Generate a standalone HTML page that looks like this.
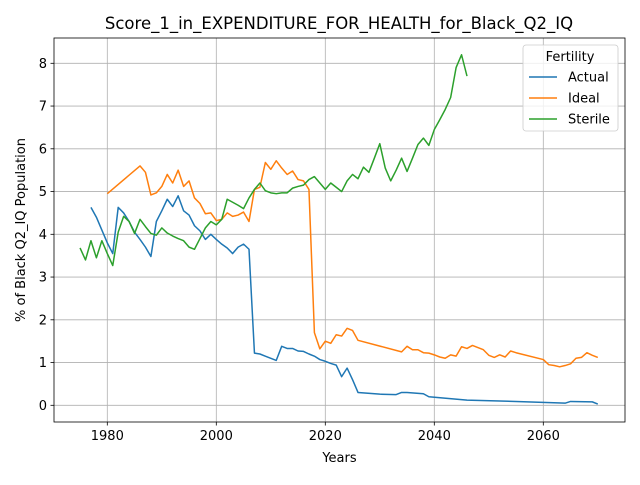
<!DOCTYPE html>
<html><head><meta charset="utf-8"><style>body{margin:0;background:#fff}svg{font-family:"DejaVu Sans","Liberation Sans",sans-serif}</style></head>
<body>
<svg id="chart" width="640" height="480" xmlns="http://www.w3.org/2000/svg"></svg>
<script>
const actualYears=[1977,1978,1979,1980,1981,1982,1983,1984,1985,1986,1987,1988,1989,1990,1991,1992,1993,1994,1995,1996,1997,1998,1999,2000,2001,2002,2003,2004,2005,2006,2007,2008,2009,2010,2011,2012,2013,2014,2015,2016,2017,2018,2019,2020,2021,2022,2023,2024,2025,2026,2030,2033,2034,2035,2038,2039,2046,2055,2064,2065,2069,2070];
const actualValues=[4.63,4.4,4.1,3.8,3.55,4.63,4.5,4.3,4.05,3.88,3.7,3.48,4.3,4.55,4.82,4.65,4.9,4.55,4.45,4.2,4.08,3.88,4.0,3.88,3.77,3.68,3.55,3.7,3.77,3.65,1.22,1.2,1.15,1.1,1.05,1.38,1.33,1.33,1.27,1.26,1.2,1.15,1.07,1.03,0.98,0.94,0.67,0.87,0.6,0.3,0.26,0.25,0.3,0.3,0.27,0.2,0.12,0.09,0.05,0.09,0.08,0.03];
const idealYears=[1980,1986,1987,1988,1989,1990,1991,1992,1993,1994,1995,1996,1997,1998,1999,2000,2001,2002,2003,2004,2005,2006,2007,2008,2009,2010,2011,2012,2013,2014,2015,2016,2017,2018,2019,2020,2021,2022,2023,2024,2025,2026,2034,2035,2036,2037,2038,2039,2040,2041,2042,2043,2044,2045,2046,2047,2048,2049,2050,2051,2052,2053,2054,2055,2060,2061,2062,2063,2064,2065,2066,2067,2068,2069,2070];
const idealValues=[4.95,5.6,5.45,4.92,4.97,5.12,5.4,5.2,5.5,5.12,5.25,4.85,4.72,4.48,4.5,4.32,4.35,4.5,4.42,4.45,4.52,4.3,5.05,5.1,5.68,5.52,5.72,5.55,5.4,5.48,5.28,5.25,5.05,1.7,1.32,1.5,1.45,1.65,1.62,1.8,1.75,1.52,1.25,1.38,1.3,1.3,1.23,1.22,1.18,1.13,1.1,1.18,1.15,1.37,1.33,1.4,1.35,1.3,1.17,1.12,1.18,1.13,1.27,1.23,1.07,0.95,0.93,0.9,0.93,0.97,1.1,1.12,1.23,1.17,1.12];
const sterileYears=[1975,1976,1977,1978,1979,1980,1981,1982,1983,1984,1985,1986,1987,1988,1989,1990,1991,1992,1993,1994,1995,1996,1997,1998,1999,2000,2001,2002,2003,2004,2005,2006,2007,2008,2009,2010,2011,2012,2013,2014,2015,2016,2017,2018,2019,2020,2021,2022,2023,2024,2025,2026,2027,2028,2029,2030,2031,2032,2033,2034,2035,2036,2037,2038,2039,2040,2041,2042,2043,2044,2045,2046];
const sterileValues=[3.68,3.4,3.85,3.45,3.85,3.55,3.27,4.05,4.42,4.3,4.02,4.35,4.18,4.02,3.98,4.15,4.03,3.96,3.9,3.85,3.7,3.65,3.9,4.15,4.3,4.22,4.35,4.82,4.75,4.68,4.6,4.85,5.05,5.2,5.02,4.97,4.95,4.97,4.97,5.08,5.12,5.15,5.28,5.35,5.2,5.05,5.2,5.1,5.0,5.25,5.4,5.3,5.57,5.45,5.78,6.12,5.55,5.25,5.5,5.78,5.47,5.78,6.1,6.25,6.08,6.45,6.68,6.92,7.2,7.9,8.2,7.7];
const xTicks=[1980,2000,2020,2040,2060];
const yTicks=[0,1,2,3,4,5,6,7,8];

const svg=document.getElementById('chart');
const NS='http://www.w3.org/2000/svg';
const L=54,R=625,T=38,B=422;
const xs=v=>216.3+(v-2000)*5.45;
const ys=v=>405.3-v*42.75;
function mk(tag,attrs,parent){const e=document.createElementNS(NS,tag);for(const k in attrs)e.setAttribute(k,attrs[k]);(parent||svg).appendChild(e);return e;}

const title=mk('text',{x:339,y:29,'text-anchor':'middle','font-size':16.5,fill:'#000'});
title.textContent='Score_1_in_EXPENDITURE_FOR_HEALTH_for_Black_Q2_IQ';



xTicks.forEach(t=>{
  const g=mk('line',{x1:xs(t),x2:xs(t),y1:T,y2:B,stroke:'#b0b0b0','stroke-width':0.8});
  
  
  mk('line',{x1:xs(t),x2:xs(t),y1:B,y2:B+3.5,stroke:'#000','stroke-width':0.8});
  const tx=mk('text',{x:xs(t),y:B+18,'text-anchor':'middle','font-size':13,fill:'#000'});
  tx.textContent=t;
  
  
});
yTicks.forEach(t=>{
  const g=mk('line',{x1:L,x2:R,y1:ys(t),y2:ys(t),stroke:'#b0b0b0','stroke-width':0.8});
  
  
  mk('line',{x1:L-3.5,x2:L,y1:ys(t),y2:ys(t),stroke:'#000','stroke-width':0.8});
  const tx=mk('text',{x:L-7,y:ys(t)+4.5,'text-anchor':'end','font-size':13,fill:'#000'});
  tx.textContent=t;
  
  
});

const series=[[actualYears,actualValues,'#1f77b4','actual-line'],[idealYears,idealValues,'#ff7f0e','ideal-line'],[sterileYears,sterileValues,'#2ca02c','sterile-line']];
series.forEach(([xa,ya,c,n])=>{
  const p=mk('polyline',{points:xa.map((x,i)=>xs(x)+','+ys(ya[i])).join(' '),fill:'none',stroke:c,'stroke-width':1.5,'stroke-linejoin':'round'});
  
  
});

const frame=mk('rect',{x:L,y:T,width:R-L,height:B-T,fill:'none',stroke:'#000','stroke-width':0.8});



const xl=mk('text',{x:(L+R)/2,y:462,'text-anchor':'middle','font-size':13,fill:'#000'});
xl.textContent='Years';


const yl=mk('text',{x:0,y:0,'text-anchor':'middle','font-size':13,fill:'#000',transform:'translate(25,230) rotate(-90)'});
yl.textContent='% of Black Q2_IQ Population';



const lg=mk('g',{});


mk('rect',{x:523,y:45,width:95,height:86,rx:3,fill:'#fff','fill-opacity':0.8,stroke:'#ccc','stroke-width':0.8},lg);
const lt=mk('text',{x:570,y:61,'text-anchor':'middle','font-size':13,fill:'#000'},lg);
lt.textContent='Fertility';


[['Actual','#1f77b4'],['Ideal','#ff7f0e'],['Sterile','#2ca02c']].forEach(([n,c],i)=>{
  const y=77+i*21;
  const ln=mk('line',{x1:529,x2:557,y1:y,y2:y,stroke:c,'stroke-width':1.5},lg);
  
  
  const t=mk('text',{x:568,y:y+4.5,'font-size':13,fill:'#000'},lg);
  t.textContent=n;
  
  
});
</script>
</body></html>
